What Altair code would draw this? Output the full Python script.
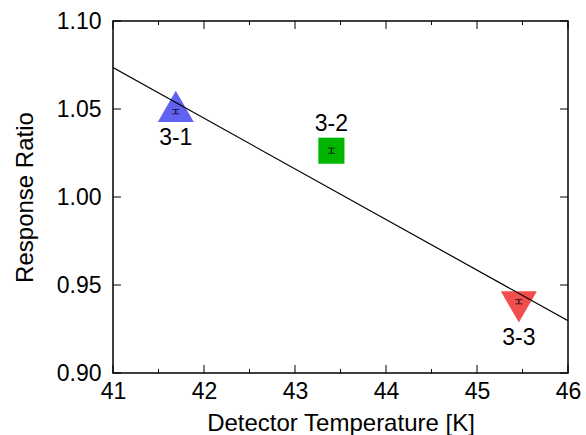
import altair as alt
import pandas as pd

# ---- data ----
names = ["3-1", "3-2", "3-3"]
temps = [41.69, 43.40, 45.46]
ratios = [1.0485, 1.0263, 0.9405]
errs = [0.0012, 0.0015, 0.0012]
colors = ["#6262f2", "#00b400", "#f24e4e"]
shapes = ["M0,-1.155L1,0.577L-1,0.577Z", "square", "M0,1.155L1,-0.577L-1,-0.577Z"]
marker_sizes = [1300, 680, 1300]
label_dy = [26, -27, 36]

fit_x = [41, 46]
fit_y = [1.0735, 0.9297]

x_major = [41, 42, 43, 44, 45, 46]
x_minor = [41.5, 42.5, 43.5, 44.5, 45.5]
y_major = [0.90, 0.95, 1.00, 1.05, 1.10]

W, H = 455, 352
FONT = "Liberation Sans"

pts = pd.DataFrame({"name": names, "T": temps, "R": ratios,
                    "lo": [r - e for r, e in zip(ratios, errs)],
                    "hi": [r + e for r, e in zip(ratios, errs)]})
fit = pd.DataFrame({"T": fit_x, "R": fit_y})
xmaj = pd.DataFrame({"T": x_major})
xmin = pd.DataFrame({"T": x_minor})
ymaj = pd.DataFrame({"R": y_major})

xs = alt.Scale(domain=[41, 46], nice=False, zero=False)
ys = alt.Scale(domain=[0.90, 1.10], nice=False, zero=False)

x_axis = alt.Axis(values=x_major, format="d", ticks=False, domain=False, grid=False,
                  labelFont=FONT, labelFontSize=23, labelColor="black", labelPadding=7,
                  labelFlush=False, labelOverlap=False,
                  title="Detector Temperature [K]", titleFont=FONT, titleFontSize=24,
                  titleFontWeight="normal", titleColor="black", titlePadding=8)
y_axis = alt.Axis(values=y_major, format=".2f", ticks=False, domain=False, grid=False,
                  labelFont=FONT, labelFontSize=23, labelColor="black", labelPadding=12,
                  labelFlush=False, labelOverlap=False,
                  title="Response Ratio", titleFont=FONT, titleFontSize=24,
                  titleFontWeight="normal", titleColor="black", titlePadding=19)

def X(field):
    return alt.X(field, scale=xs, axis=x_axis)

def Y(field):
    return alt.Y(field, scale=ys, axis=y_axis)

base = alt.Chart(pts)

markers = []
labels = []
for n, shp, col, sz, d in zip(names, shapes, colors, marker_sizes, label_dy):
    sub = base.transform_filter(alt.datum.name == n)
    markers.append(
        sub.mark_point(filled=True, opacity=1, shape=shp, color=col, size=sz, strokeWidth=0)
        .encode(x=X("T:Q"), y=Y("R:Q"))
    )
    labels.append(
        sub.mark_text(font=FONT, fontSize=23, color="black", dy=d,
                      baseline="middle", align="center")
        .encode(x=X("T:Q"), y=Y("R:Q"), text="name:N")
    )

err_v = base.mark_rule(color="black", strokeWidth=1).encode(
    x=X("T:Q"), y=Y("lo:Q"), y2="hi:Q",
)
cap_lo = base.mark_tick(color="black", size=7, thickness=1, orient="horizontal").encode(
    x=X("T:Q"), y=Y("lo:Q"),
)
cap_hi = base.mark_tick(color="black", size=7, thickness=1, orient="horizontal").encode(
    x=X("T:Q"), y=Y("hi:Q"),
)

line = alt.Chart(fit).mark_line(color="black", strokeWidth=1.2, clip=True).encode(
    x=X("T:Q"), y=Y("R:Q"),
)

def xticks(df, length):
    bot = alt.Chart(df).mark_rule(color="black", strokeWidth=1).encode(
        x=X("T:Q"), y=alt.value(H), y2=alt.value(H - length))
    top = alt.Chart(df).mark_rule(color="black", strokeWidth=1).encode(
        x=X("T:Q"), y=alt.value(0), y2=alt.value(length))
    return [bot, top]

def yticks(df, length):
    left = alt.Chart(df).mark_rule(color="black", strokeWidth=1).encode(
        y=Y("R:Q"), x=alt.value(0), x2=alt.value(length))
    right = alt.Chart(df).mark_rule(color="black", strokeWidth=1).encode(
        y=Y("R:Q"), x=alt.value(W), x2=alt.value(W - length))
    return [left, right]

tick_layers = xticks(xmaj, 8) + xticks(xmin, 4) + yticks(ymaj, 8)

chart = alt.layer(*markers, *tick_layers, err_v, cap_lo, cap_hi, line, *labels).properties(
    width=W, height=H,
    padding={"left": 113, "top": 21, "right": 18, "bottom": 62},
    autosize=alt.AutoSizeParams(type="none"),
    background="white",
).configure_view(stroke="black", strokeWidth=1.5)

chart.save("out.html", embed_options={"renderer": "svg", "actions": False})
